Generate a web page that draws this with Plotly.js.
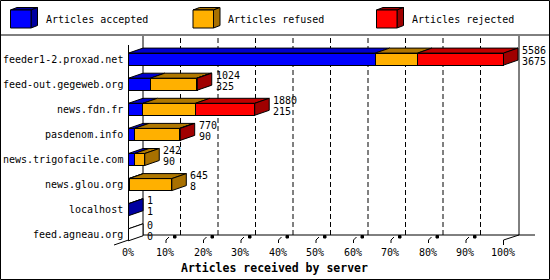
<!DOCTYPE html>
<html>
<head>
<meta charset="utf-8">
<script src="https://cdn.plot.ly/plotly-3.0.1.min.js"></script>
<style>
  html, body { margin: 0; padding: 0; background: #fff; }
  #chart { width: 550px; height: 280px; }
</style>
</head>
<body>
<div id="chart"></div>
<script>
// ---- data ----
const categories = ['feeder1-2.proxad.net', 'feed-out.gegeweb.org', 'news.fdn.fr', 'pasdenom.info',
                    'news.trigofacile.com', 'news.glou.org', 'localhost', 'feed.agneau.org'];
const offered  = [5586, 1024, 1880, 770, 242, 645, 1, 0];
const accepted = [3675, 325, 215, 90, 90, 8, 1, 0];
const refused  = [630, 690, 782, 670, 152, 637, 0, 0];
const rejected = [1281, 9, 883, 10, 0, 0, 0, 0];
const seriesNames = ['Articles accepted', 'Articles refused', 'Articles rejected'];
const tickPercents = [0, 10, 20, 30, 40, 50, 60, 70, 80, 90, 100];
const xTitle = 'Articles received by server';

// ---- styling / layout constants ----
const W = 550, H = 280;
const FONT = 'DejaVu Sans Mono';
const frontColors = ['#0000ff', '#ffb000', '#ff0000'];
const topColors   = ['#0000cc', '#b07800', '#c00000'];
const sideColors  = ['#0000a0', '#a87000', '#a00000'];
const ZERO_PX = 128.5, FULL_PX = 375;     // pixel of 0 and pixel length of max value
const ROW0_PX = 59.1, ROW_PX = 25.1;      // pixel of first category, row pitch
const DX = 14.5, DY = 5, BAR_H = 12;      // 3D depth and bar height (px)
const WALL_TOP = 36, FLOOR_BACK = 235, FLOOR_FRONT = 240;

const maxTotal = Math.max(...offered);
const k = FULL_PX / maxTotal;                 // px per article
const xRange = [-ZERO_PX / k, (W - ZERO_PX) / k];
const yRange = [(H - ROW0_PX) / ROW_PX, -ROW0_PX / ROW_PX];
const dxU = DX / k, dyU = DY / ROW_PX, bw = BAR_H / ROW_PX;
const px = v => v / W;            // pixel x -> paper
const py = v => 1 - v / H;        // pixel y -> paper

const idx = categories.map((_, i) => i);
const series = [accepted, refused, rejected];

const traces = series.map((vals, s) => ({
  type: 'bar', orientation: 'h', y: idx, x: vals, width: bw,
  name: seriesNames[s], showlegend: false, hoverinfo: 'skip',
  marker: { color: frontColors[s], line: { color: '#000', width: 1 } }
}));

const shapes = [];
const annotations = [];
const line = (x0, y0, x1, y1, extra) => Object.assign({
  type: 'line', xref: 'paper', yref: 'paper', x0: px(x0), y0: py(y0), x1: px(x1), y1: py(y1),
  line: { color: '#000', width: 1 }, layer: 'below'
}, extra || {});

// border & legend separator
shapes.push({ type: 'rect', xref: 'paper', yref: 'paper', x0: px(0.5), y0: py(0.5), x1: px(549.5), y1: py(279.5),
  line: { color: '#000', width: 1 }, fillcolor: 'rgba(0,0,0,0)' });
shapes.push(line(0, 35, 550, 35, { layer: 'above' }));

// walls / floor
shapes.push(line(ZERO_PX + DX, WALL_TOP, ZERO_PX + DX, FLOOR_BACK));
shapes.push(line(ZERO_PX, 45, ZERO_PX, FLOOR_FRONT, { layer: 'above' }));
shapes.push(line(ZERO_PX + FULL_PX + DX + 1, WALL_TOP, ZERO_PX + FULL_PX + DX + 1, FLOOR_BACK));
shapes.push(line(ZERO_PX + DX, FLOOR_BACK, 535, FLOOR_BACK));
shapes.push(line(ZERO_PX - DX, FLOOR_FRONT + DY, ZERO_PX + DX, FLOOR_BACK));

// grid lines, ticks, tick labels
tickPercents.forEach((p, j) => {
  const xv = p * maxTotal / 100;
  const tx = ZERO_PX + xv * k;
  if (p > 0 && p < 100) {
    shapes.push({ type: 'line', xref: 'x', yref: 'paper', x0: xv + dxU, x1: xv + dxU,
      y0: py(WALL_TOP + 2), y1: py(FLOOR_BACK), layer: 'below',
      line: { color: '#000', width: 1, dash: '5px,3px' } });
    shapes.push({ type: 'path', xref: 'paper', yref: 'paper', layer: 'below',
      path: `M${px(tx)},${py(243)} L${px(tx)},${py(240)} L${px(tx + 3)},${py(237)}`,
      line: { color: '#000', width: 1 } });
    shapes.push({ type: 'rect', xref: 'paper', yref: 'paper', layer: 'below',
      x0: px(tx + 7.5), x1: px(tx + 10), y0: py(235.5), y1: py(238),
      fillcolor: '#000', line: { color: '#000', width: 1 } });
  }
  if (p === 100) {
    shapes.push(line(tx, 245, tx, FLOOR_FRONT));
    shapes.push(line(tx, FLOOR_FRONT, tx + DX + 1, FLOOR_BACK));
  }
  annotations.push({ xref: 'x', yref: 'paper', x: xv, y: py(252), xshift: -1,
    text: p + '%', showarrow: false, xanchor: 'center', yanchor: 'middle', borderpad: 0,
    font: { family: FONT, size: 10, color: '#000' } });
});

// 3D faces of bars
idx.forEach(i => {
  const yt = i - bw / 2, yb = i + bw / 2;
  let start = 0, lastSeg = -1;
  series.forEach((vals, s) => {
    const v = vals[i];
    if (v > 0) {
      const x0 = start, x1 = start + v;
      shapes.push({ type: 'path', xref: 'x', yref: 'y', layer: 'above',
        path: `M${x0},${yt} L${x1},${yt} L${x1 + dxU},${yt - dyU} L${x0 + dxU},${yt - dyU} Z`,
        fillcolor: topColors[s], line: { color: '#000', width: 1 } });
      lastSeg = s;
      start = x1;
    }
  });
  const e = start;
  if (lastSeg < 0) {
    shapes.push({ type: 'path', xref: 'x', yref: 'y', layer: 'above',
      path: `M${e},${yt} L${e + dxU},${yt - dyU}`, line: { color: '#000', width: 1 } });
  }
  shapes.push({ type: 'path', xref: 'x', yref: 'y', layer: 'above',
    path: `M${e},${yt} L${e + dxU},${yt - dyU} L${e + dxU},${yb - dyU} L${e},${yb} Z`,
    fillcolor: lastSeg < 0 ? '#ffffff' : sideColors[lastSeg], line: { color: '#000', width: 1 } });

  // category label
  annotations.push({ xref: 'paper', yref: 'y', x: px(124), y: i, text: categories[i],
    showarrow: false, xanchor: 'right', yanchor: 'middle', borderpad: 0,
    font: { family: FONT, size: 10, color: '#000' } });
  // value labels
  annotations.push({ xref: 'x', yref: 'y', x: offered[i] + dxU, y: i, xshift: 3, yshift: 9,
    text: String(offered[i]), showarrow: false, xanchor: 'left', yanchor: 'middle', borderpad: 0,
    font: { family: FONT, size: 10, color: '#000' } });
  annotations.push({ xref: 'x', yref: 'y', x: offered[i] + dxU, y: i, xshift: 3, yshift: -2,
    text: String(accepted[i]), showarrow: false, xanchor: 'left', yanchor: 'middle', borderpad: 0,
    font: { family: FONT, size: 10, color: '#000' } });
});

// legend
const legendX = [10.5, 193, 376.5];
seriesNames.forEach((name, s) => {
  const x0 = legendX[s], x1 = x0 + 20.5, y0 = 10, y1 = 28, d = 6.5, h = 2.5;
  shapes.push({ type: 'path', xref: 'paper', yref: 'paper', layer: 'above',
    path: `M${px(x0)},${py(y0)} L${px(x1)},${py(y0)} L${px(x1 + d)},${py(y0 - h)} L${px(x0 + d)},${py(y0 - h)} Z`,
    fillcolor: sideColors[s], line: { color: '#000', width: 1 } });
  shapes.push({ type: 'path', xref: 'paper', yref: 'paper', layer: 'above',
    path: `M${px(x1)},${py(y0)} L${px(x1 + d)},${py(y0 - h)} L${px(x1 + d)},${py(y1 - h)} L${px(x1)},${py(y1)} Z`,
    fillcolor: sideColors[s], line: { color: '#000', width: 1 } });
  shapes.push({ type: 'rect', xref: 'paper', yref: 'paper', layer: 'above',
    x0: px(x0), x1: px(x1), y0: py(y0), y1: py(y1),
    fillcolor: frontColors[s], line: { color: '#000', width: 1 } });
  annotations.push({ xref: 'paper', yref: 'paper', x: px(x0 + 34), y: py(20), text: name,
    showarrow: false, xanchor: 'left', yanchor: 'middle', borderpad: 0,
    font: { family: FONT, size: 10, color: '#000' } });
});

// axis title
annotations.push({ xref: 'paper', yref: 'paper', x: px(274), y: py(267.5), text: '<b>' + xTitle + '</b>',
  showarrow: false, xanchor: 'center', yanchor: 'middle', borderpad: 0,
  font: { family: FONT, size: 11.5, color: '#000' } });

const layout = {
  width: W, height: H, autosize: false,
  margin: { l: 0, r: 0, t: 0, b: 0, pad: 0 },
  paper_bgcolor: '#fff', plot_bgcolor: '#fff',
  barmode: 'stack', showlegend: false,
  xaxis: { range: xRange, visible: false, fixedrange: true },
  yaxis: { range: yRange, visible: false, fixedrange: true },
  shapes, annotations
};

Plotly.newPlot('chart', traces, layout, { staticPlot: true, displayModeBar: false });
</script>
</body>
</html>
